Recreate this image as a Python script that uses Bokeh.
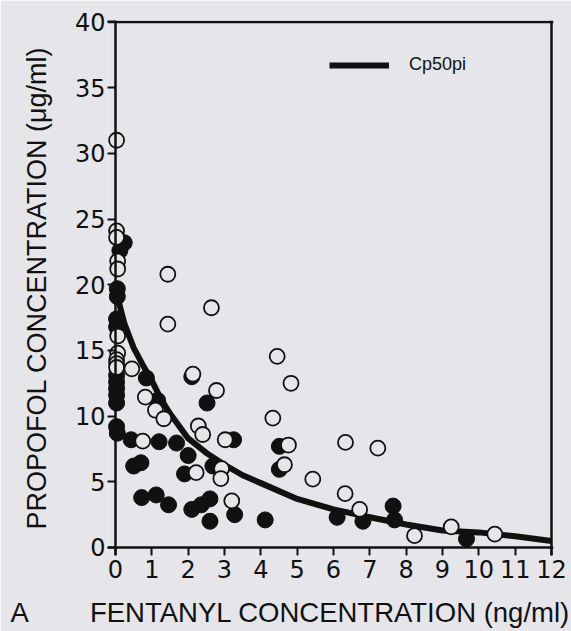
from bokeh.plotting import figure
from bokeh.models import Range1d, FixedTicker, Span, Legend, LegendItem, Title
from bokeh.embed import file_html
from bokeh.resources import INLINE

# ---- data ----
x_ticks = list(range(0, 13))
y_ticks = list(range(0, 41, 5))

# open circles
open_x = [0.03, 0.03, 0.03, 0.06, 0.06, 0.06, 0.06, 0.03, 0.03, 0.03, 0.45, 1.44, 1.44,
          2.64, 0.82, 1.10, 1.33, 0.75, 2.13, 2.78, 2.28, 2.40, 3.02, 2.22, 2.92, 2.90,
          3.20, 4.45, 4.83, 4.33, 4.76, 4.65, 5.43, 6.33, 7.22, 6.32, 6.72, 8.23, 9.24, 10.44]
open_y = [31.0, 24.1, 23.6, 21.8, 21.2, 16.1, 14.8, 14.3, 14.0, 13.7, 13.6, 20.8, 17.0,
          18.25, 11.45, 10.45, 9.8, 8.1, 13.2, 11.95, 9.25, 8.6, 8.2, 5.7, 6.0, 5.25,
          3.55, 14.55, 12.5, 9.85, 7.8, 6.3, 5.2, 8.0, 7.56, 4.1, 2.9, 0.9, 1.57, 1.02]

# filled circles
filled_x = [0.24, 0.12, 0.05, 0.05, 0.03, 0.03, 0.03, 0.03, 0.03, 0.03, 0.03, 0.03, 0.05,
            0.85, 1.16, 0.43, 1.20, 1.68, 2.00, 1.90, 2.68, 0.50, 0.70, 0.72, 1.12, 1.46,
            2.10, 2.36, 2.60, 2.60, 3.28, 3.25, 2.10, 2.52, 4.12, 4.51, 4.51, 6.10, 6.81,
            7.64, 7.68, 9.66]
filled_y = [23.2, 22.6, 19.7, 19.1, 17.4, 16.8, 13.1, 12.6, 12.1, 11.6, 11.0, 9.2, 8.7,
            12.9, 11.2, 8.2, 8.05, 7.95, 7.0, 5.6, 6.2, 6.2, 6.45, 3.8, 4.0, 3.25,
            2.9, 3.25, 3.7, 2.0, 2.5, 8.2, 13.0, 11.0, 2.1, 7.7, 5.95, 2.3, 2.0,
            3.15, 2.1, 0.65]

# Cp50pi curve
curve_x = [0, 0.1, 0.25, 0.5, 0.75, 1.0, 1.25, 1.5, 2.0, 2.5, 3.0, 3.5, 4.0, 5.0,
           6.0, 7.0, 8.0, 9.0, 10.0, 11.0, 12.0]
curve_y = [20.0, 18.6, 17.0, 15.2, 13.9, 12.7, 11.3, 10.2, 8.3, 7.2, 6.3, 5.5, 4.9, 3.7,
           2.9, 2.3, 1.75, 1.3, 1.15, 0.85, 0.5]

x_label = "FENTANYL CONCENTRATION (ng/ml)"
y_label = "PROPOFOL CONCENTRATION (\u03bcg/ml)"
legend_label = "Cp50pi"
panel_label = "A"

# ---- style ----
BG = "#e5e5ea"
INK = "#111111"
LABEL_FONT = "Liberation Sans"
TICK_FONT = "DejaVu Sans"

p = figure(width=571, height=631, output_backend="svg", toolbar_location=None,
           x_range=Range1d(-0.2202, 12.055), y_range=Range1d(-0.609, 40.114),
           min_border_left=107, min_border_right=18, min_border_top=20,
           min_border_bottom=76)
p.background_fill_color = BG
p.border_fill_color = BG
p.outline_line_color = None
p.grid.visible = False

for ax, ticks in ((p.xaxis[0], x_ticks), (p.yaxis[0], y_ticks)):
    ax.ticker = FixedTicker(ticks=ticks)
    ax.axis_line_color = None
    ax.major_tick_in = 8
    ax.major_tick_out = 0
    ax.minor_tick_line_color = None
    ax.major_tick_line_color = INK
    ax.major_tick_line_width = 2
    ax.major_label_text_font = TICK_FONT
    ax.major_label_text_font_size = "24px"
    ax.major_label_text_color = INK
    ax.axis_label_text_font = LABEL_FONT
    ax.axis_label_text_font_style = "normal"
    ax.axis_label_text_color = INK

p.yaxis[0].axis_label = y_label
p.yaxis[0].axis_label_text_font_size = "27px"
p.yaxis[0].major_label_standoff = 2
p.yaxis[0].axis_label_standoff = 20

# x axis: tick labels only; a tiny blank label acts as a spacer before the title row
p.xaxis[0].major_label_standoff = 4
p.xaxis[0].axis_label = "\u00a0"
p.xaxis[0].axis_label_text_font_size = "1px"
p.xaxis[0].axis_label_standoff = 10

# bottom row: panel letter and x-axis title
bottom_title = Title(text=panel_label + "\u00a0" * 8 + x_label, align="left", offset=-97,
                     standoff=0, text_font=LABEL_FONT, text_font_size="27.5px",
                     text_font_style="normal", text_color=INK)
p.add_layout(bottom_title, "below")

# frame / axis lines
for loc, dim in ((0, "height"), (12, "height"), (0, "width"), (40, "width")):
    p.add_layout(Span(location=loc, dimension=dim, line_color=INK, line_width=2.5))

curve = p.line(curve_x, curve_y, line_color=INK, line_width=6, line_join="round")
p.scatter(filled_x, filled_y, size=16, marker="circle", fill_color=INK, line_color=INK,
          line_width=1)
p.scatter(open_x, open_y, size=15, marker="circle", fill_color=BG, line_color=INK,
          line_width=1.8)

legend = Legend(items=[LegendItem(label=legend_label, renderers=[curve])],
                location=(222, 480), border_line_color=None, background_fill_alpha=0,
                padding=0, margin=0, glyph_width=60, glyph_height=20, label_height=20,
                label_standoff=20, label_text_font=LABEL_FONT,
                label_text_font_size="18px", label_text_color=INK)
p.add_layout(legend)

open("out.html", "w").write(file_html(p, INLINE))
